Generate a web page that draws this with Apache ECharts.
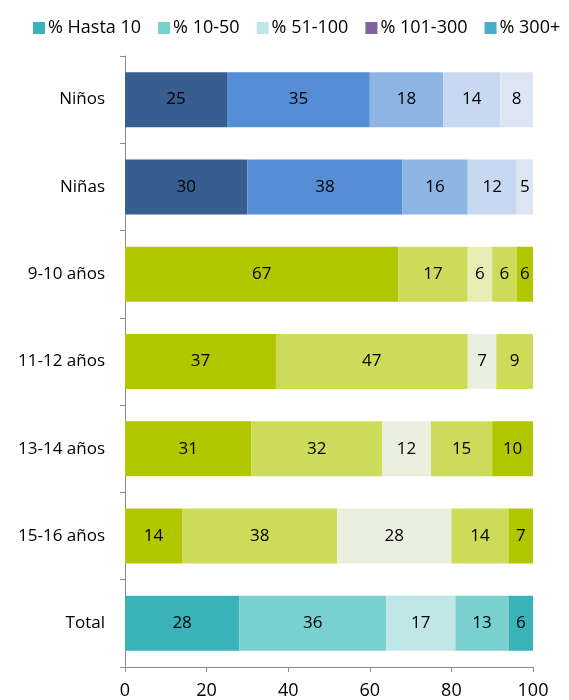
<!DOCTYPE html>
<html>
<head>
<meta charset="utf-8">
<script src="https://cdn.jsdelivr.net/npm/echarts@6/dist/echarts.min.js"></script>
<style>
  html, body { margin: 0; padding: 0; background: #fff; }
  #chart { width: 569px; height: 700px; }
</style>
</head>
<body>
<div id="chart"></div>
<script>
// categorias (de arriba a abajo)
const categories = ['Niños', 'Niñas', '9-10 años', '11-12 años', '13-14 años', '15-16 años', 'Total']
const seriesNames = ['% Hasta 10', '% 10-50', '% 51-100', '% 101-300', '% 300+']

// valores por tramo, en el orden de categories
const hasta10 = [25, 30, 67, 37, 31, 14, 28]
const de10a50 = [35, 38, 17, 47, 32, 38, 36]
const de51a100 = [18, 16, 6, 7, 12, 28, 17]
const de101a300 = [14, 12, 6, 9, 15, 14, 13]
const mas300 = [8, 5, 6, null, 10, 7, 6]

// colores
const legendColors = ['#3AB3B8', '#7ACFCF', '#C0E6E8', '#8064A2', '#4BACC6']
const blues = ['#375E8F', '#558ED5', '#8EB4E3', '#C6D9F1', '#DCE6F2']
const greens = ['#B3C700', '#CCDB5A', '#EBEFDF', '#CCDB5A', '#B3C700']
const greens910 = ['#B3C700', '#CCDB5A', '#E6EEB6', '#CCDB5A', '#B3C700']
const teals = ['#3AB3B8', '#7ACFCF', '#C0E6E8', '#7ACFCF', '#3AB3B8']
const rowColors = [blues, blues, greens910, greens, greens, greens, teals]

const allValues = [hasta10, de10a50, de51a100, de101a300, mas300]
const font = 'Open Sans'

const chart = echarts.init(document.getElementById('chart'))

const series = allValues.map(function(vals, s) {
  return {
    name: seriesNames[s],
    type: 'bar',
    stack: 'total',
    barWidth: '63%',
    itemStyle: { color: legendColors[s] },
    label: {
      show: true,
      position: 'inside',
      color: '#000',
      fontFamily: font,
      fontSize: 17
    },
    data: vals.map(function(v, i) {
      return { value: v, itemStyle: { color: rowColors[i][s] } }
    })
  }
})

chart.setOption({
  animation: false,
  textStyle: { fontFamily: font },
  legend: {
    top: 14,
    left: 28,
    itemWidth: 12,
    itemHeight: 12,
    itemGap: 17,
    icon: 'rect',
    textStyle: { fontFamily: font, fontSize: 18, color: '#000', padding: [0, 0, 0, -2] },
    data: seriesNames
  },
  grid: {
    left: 125,
    right: 36,
    top: 56,
    bottom: 33,
    containLabel: false
  },
  xAxis: {
    type: 'value',
    min: 0,
    max: 100,
    interval: 20,
    axisLine: { show: true, lineStyle: { color: '#8C8C8C' } },
    axisTick: { show: true, length: 5, lineStyle: { color: '#8C8C8C' } },
    axisLabel: { color: '#000', fontFamily: font, fontSize: 18, margin: 15 },
    splitLine: { show: false }
  },
  yAxis: {
    type: 'category',
    inverse: true,
    data: categories,
    axisLine: { show: true, lineStyle: { color: '#8C8C8C' } },
    axisTick: { show: true, length: 5, lineStyle: { color: '#8C8C8C' } },
    axisLabel: { color: '#000', fontFamily: font, fontSize: 17, margin: 20 }
  },
  series: series
})
</script>
</body>
</html>
